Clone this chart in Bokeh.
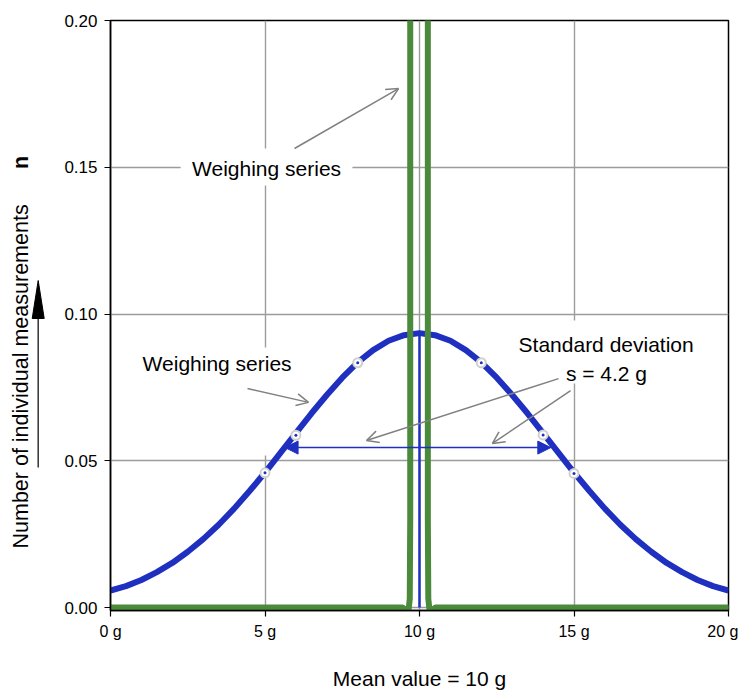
import math
from bokeh.plotting import figure
from bokeh.layouts import row
from bokeh.models import (Range1d, Label, Arrow, OpenHead, NormalHead, FixedTicker)
from bokeh.embed import file_html
from bokeh.resources import INLINE

# ---------------- data ----------------
x_ticks = [0, 5, 10, 15, 20]
x_tick_labels = ["0 g", "5 g", "10 g", "15 g", "20 g"]
y_ticks = [0.0, 0.05, 0.10, 0.15, 0.20]
y_tick_labels = ["0.00", "0.05", "0.10", "0.15", "0.20"]

# broad weighing series (blue), s = 4.2 g
blue_x = [0, 0.5, 1, 1.5, 2, 2.5, 3, 3.5, 4, 4.5, 5, 5.5, 6, 6.5, 7, 7.5, 8, 8.5,
          9, 9.5, 10, 10.5, 11, 11.5, 12, 12.5, 13, 13.5, 14, 14.5, 15, 15.5,
          16, 16.5, 17, 17.5, 18, 18.5, 19, 19.5, 20]
blue_y = [0.0058, 0.0073, 0.0094, 0.0121, 0.0152, 0.0190, 0.0233, 0.0282,
          0.0337, 0.0397, 0.0460, 0.0527, 0.0594, 0.0661, 0.0724, 0.0783,
          0.0835, 0.0877, 0.0909, 0.0928, 0.0935, 0.0928, 0.0909, 0.0877,
          0.0835, 0.0783, 0.0724, 0.0661, 0.0594, 0.0527, 0.0460, 0.0397,
          0.0337, 0.0282, 0.0233, 0.0190, 0.0152, 0.0121, 0.0094, 0.0073,
          0.0058]

# marked points on the blue curve
mark_x = [5, 6, 8, 12, 14, 15]
mark_y = [0.0459, 0.0587, 0.0834, 0.0834, 0.0588, 0.0457]

# mean line of the blue series
mean_x = [10, 10]
mean_y = [0.0, 0.0932]

# narrow weighing series (green)
green_x = [0, 9.45, 9.57, 9.65, 9.685, 9.70, 9.70, 10.27, 10.27, 10.285,
           10.32, 10.40, 10.52, 20]
green_y = [0.0, 0.0, -0.0008, -0.0005, 0.003, 0.03, 0.26, 0.26, 0.03, 0.003,
           -0.0005, -0.0008, 0.0, 0.0]

# standard deviation span
sd_start = 5.65
sd_end = 14.25
sd_level = 0.0545

BLUE = "#1f30c0"
GREEN = "#4a8a3a"
GRAY = "#808080"
FONT = "Liberation Sans"

H = 696
LEFT_W = 50
TOP = 20
BOTTOM = 610

# ---------------- left strip: y axis title with arrow ----------------
# its frame is aligned with the main frame (page rows TOP..BOTTOM)
side = figure(width=LEFT_W, frame_height=BOTTOM - TOP,
              x_range=Range1d(0, LEFT_W), y_range=Range1d(BOTTOM, TOP),
              x_axis_type=None, y_axis_type=None,
              output_backend="svg", toolbar_location=None,
              min_border_left=0, min_border_right=0,
              min_border_top=TOP, min_border_bottom=H - BOTTOM)
side.outline_line_color = None
side.grid.visible = False
side.add_layout(Label(x=20, y=548, text="Number of individual measurements",
                      text_font=FONT, text_font_size="21.5px", text_align="left",
                      text_baseline="middle", angle=math.pi / 2,
                      text_color="black"))
side.add_layout(Label(x=20, y=162, text="n", text_font=FONT,
                      text_font_size="21.5px", text_font_style="bold",
                      text_align="center", text_baseline="middle",
                      angle=math.pi / 2, text_color="black"))
side.line([37.7, 37.7], [467, 316], line_color="#333333", line_width=1.5)
side.patch([31.7, 43.7, 37.7], [318, 318, 280], fill_color="black",
           line_color="black", line_width=1)

# ---------------- main chart ----------------
p = figure(frame_width=618, frame_height=BOTTOM - TOP,
           x_range=Range1d(0, 20), y_range=Range1d(-0.001, 0.2),
           output_backend="svg", toolbar_location=None,
           min_border_left=110 - LEFT_W, min_border_right=10,
           min_border_top=TOP, min_border_bottom=H - BOTTOM)

p.background_fill_color = "white"
p.outline_line_color = "black"
p.outline_line_width = 1.5

p.xaxis.ticker = FixedTicker(ticks=x_ticks)
p.yaxis.ticker = FixedTicker(ticks=y_ticks)
p.xaxis.major_label_overrides = {t: l for t, l in zip(x_ticks, x_tick_labels)}
p.yaxis.major_label_overrides = {t: l for t, l in zip(y_ticks, y_tick_labels)}
for ax in (p.xaxis, p.yaxis):
    ax.axis_line_color = "black"
    ax.axis_line_width = 1.5
    ax.major_tick_line_color = "black"
    ax.major_tick_line_width = 1.2
    ax.major_tick_out = 6
    ax.major_tick_in = 0
    ax.minor_tick_line_color = None
    ax.major_label_text_font = FONT
    ax.major_label_text_color = "black"
p.xaxis.major_label_text_font_size = "16px"
p.yaxis.major_label_text_font_size = "17px"
p.yaxis.major_label_standoff = 7
p.xaxis.major_label_standoff = 6
p.xaxis.axis_label = "Mean value = 10 g"
p.xaxis.axis_label_text_font = FONT
p.xaxis.axis_label_text_font_size = "21px"
p.xaxis.axis_label_text_font_style = "normal"
p.xaxis.axis_label_text_color = "black"
p.xaxis.axis_label_standoff = 24

p.xgrid.ticker = FixedTicker(ticks=x_ticks)
p.ygrid.ticker = FixedTicker(ticks=y_ticks)
p.grid.grid_line_color = "#9c9c9c"
p.grid.grid_line_width = 1.4

# white text boxes that interrupt the grid
p.quad(left=[2.27, 1.0, 12.9], right=[7.83, 6.15, 19.2],
       bottom=[0.1438, 0.0518, 0.0763], top=[0.1564, 0.0886, 0.0978],
       fill_color="white", line_color=None)

# curves
p.line(blue_x, blue_y, line_color=BLUE, line_width=6, line_join="round")
p.line(mean_x, mean_y, line_color=BLUE, line_width=2.5)
p.line(green_x, green_y, line_color=GREEN, line_width=6, line_join="round",
       line_cap="round")
p.scatter(mark_x, mark_y, size=9, fill_color="white", line_color="#d0d0d0",
          line_width=2)
p.scatter(mark_x, mark_y, size=3, fill_color=BLUE, line_color=None)

# standard deviation double arrow
p.add_layout(Arrow(x_start=sd_start, x_end=sd_end, y_start=sd_level, y_end=sd_level,
                   line_color=BLUE, line_width=1.5,
                   start=NormalHead(size=13, fill_color=BLUE, line_color=BLUE),
                   end=NormalHead(size=13, fill_color=BLUE, line_color=BLUE)))

# gray pointer arrows
for (xs, ys, xe, ye) in [(5.955, 0.1564, 9.32, 0.1768),
                         (4.434, 0.0746, 6.408, 0.0699),
                         (14.50, 0.0780, 8.285, 0.0569),
                         (14.89, 0.0739, 12.36, 0.0559)]:
    p.add_layout(Arrow(x_start=xs, y_start=ys, x_end=xe, y_end=ye,
                       line_color=GRAY, line_width=1.5,
                       end=OpenHead(size=12, line_color=GRAY, line_width=1.5)))

def lab(x, y, t):
    p.add_layout(Label(x=x, y=y, text=t, text_font=FONT, text_font_size="21px",
                       text_align="center", text_baseline="middle",
                       text_color="black"))

lab(5.05, 0.1496, "Weighing series")
lab(3.45, 0.0830, "Weighing series")
lab(16.04, 0.0895, "Standard deviation")
lab(16.05, 0.0796, "s = 4.2 g")

layout = row(side, p)
open("out.html", "w").write(file_html(layout, INLINE))
